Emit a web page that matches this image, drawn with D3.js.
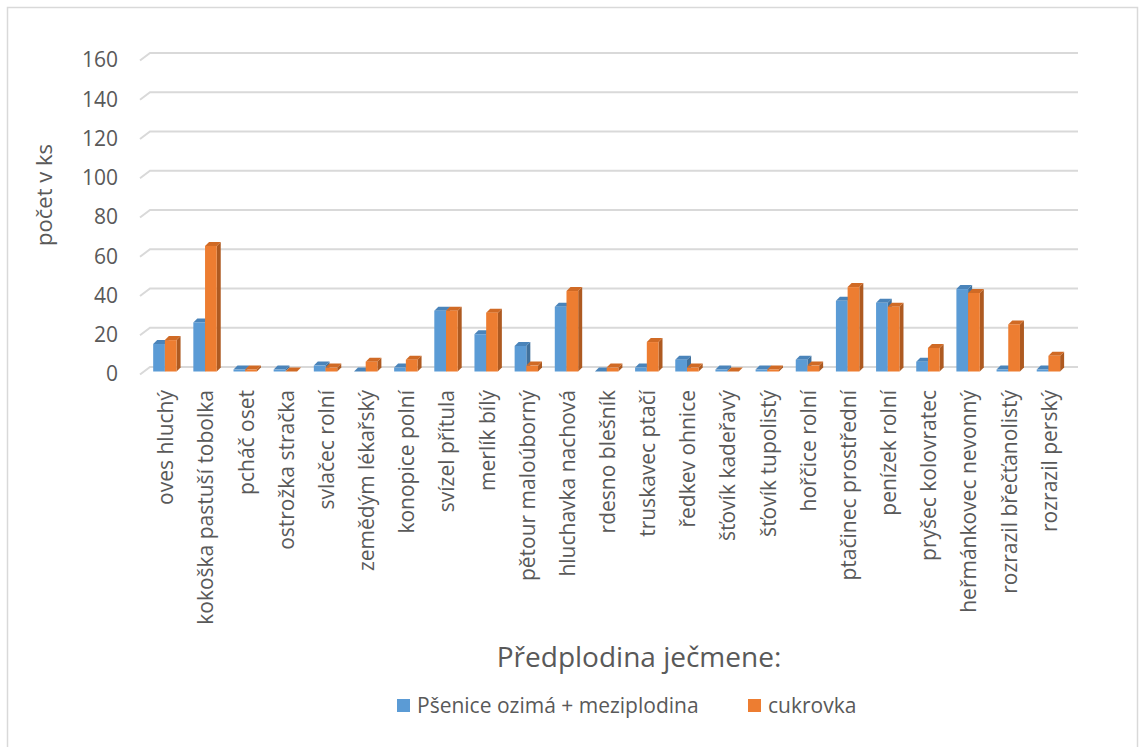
<!DOCTYPE html>
<html><head><meta charset="utf-8">
<script src="https://cdn.jsdelivr.net/npm/d3@7"></script>
<style>body{margin:0;background:#fff;} svg{display:block;}</style>
</head><body>
<svg id="c" width="1140" height="747"></svg>
<script>
const categories = ["oves hluchý","kokoška pastuší tobolka","pcháč oset","ostrožka stračka","svlačec rolní","zemědým lékařský","konopice polní","svízel přítula","merlík bílý","pětour maloúborný","hluchavka nachová","rdesno blešník","truskavec ptačí","ředkev ohnice","šťovík kadeřavý","šťovík tupolistý","hořčice rolní","ptačinec prostřední","penízek rolní","pryšec kolovratec","heřmánkovec nevonný","rozrazil břečťanolistý","rozrazil perský"];
const seriesNames = ["Pšenice ozimá + meziplodina","cukrovka"];
const wheat = [14,25,1,1,3,0,2,31,19,13,33,0,2,6,1,1,6,36,35,5,42,1,1];
const beet  = [16,64,1,0,2,5,6,31,30,3,41,2,15,2,0,1,3,43,33,12,40,24,8];
const yTicks = [0,20,40,60,80,100,120,140,160];

const svg = d3.select("#c");
const font = "'Open Sans', 'Noto Sans', sans-serif";
const txt = "#595959";

// border
svg.append("rect").attr("x",7.5).attr("y",7.5).attr("width",1130).attr("height",745)
  .attr("fill","none").attr("stroke","#d9d9d9").attr("stroke-width",1.5);

// scales
const yBack = d3.scaleLinear().domain([0,160]).range([367,53]);
const yFront = d3.scaleLinear().domain([0,160]).range([371.5,57.5]);
const x = d3.scaleBand().domain(categories).range([144.8,1068.5]).paddingInner(0).paddingOuter(0);
const bw = 11.7, dep = 4;

// gridlines (back wall + floor diagonal)
const g = svg.append("g");
yTicks.forEach(t=>{
  const yb = yBack(t);
  g.append("path").attr("d",`M140,${yb+7.5}L150,${yb}L1078,${yb}`)
    .attr("fill","none").attr("stroke","#d9d9d9").attr("stroke-width",2);
});

// y tick labels
svg.append("g").selectAll("text").data(yTicks).join("text")
  .attr("x",118).attr("y",d=>yBack(d)+7).attr("dy","0.35em")
  .attr("text-anchor","end").attr("font-family",font).attr("font-size",21).attr("fill",txt)
  .text(d=>d);

// bars
const series = [{vals:wheat, front:"#5B9BD5", side:"#41719C", top:"#4A84BA"},
                {vals:beet, front:"#ED7D31", side:"#AE5A21", top:"#D06A25"}];
const bars = svg.append("g");
categories.forEach((c,i)=>{
  const cx = x(c)+x.bandwidth()/2;
  series.forEach((s,k)=>{
    const v = s.vals[i];
    const x0 = cx - bw + k*bw;
    const yt = yFront(v), yb = yFront(0);
    bars.append("path").attr("d",`M${x0+bw},${yb}L${x0+bw+dep},${yb-dep}L${x0+bw+dep},${yt-dep}L${x0+bw},${yt}Z`).attr("fill",s.side);
    bars.append("path").attr("d",`M${x0},${yt}L${x0+dep},${yt-dep}L${x0+bw+dep},${yt-dep}L${x0+bw},${yt}Z`).attr("fill",s.top);
    bars.append("rect").attr("x",x0).attr("y",yt).attr("width",bw).attr("height",Math.max(0,yb-yt)).attr("fill",s.front);
  });
});

// category labels
svg.append("g").selectAll("text").data(categories).join("text")
  .attr("transform",d=>`translate(${x(d)+x.bandwidth()/2+1},390) rotate(-90)`)
  .attr("text-anchor","end").attr("dy","0.35em")
  .attr("font-family",font).attr("font-size",21).attr("fill",txt)
  .text(d=>d);

// axis titles
svg.append("text").attr("transform","translate(44,195) rotate(-90)")
  .attr("text-anchor","middle").attr("dy","0.35em")
  .attr("font-family",font).attr("font-size",22).attr("fill",txt).text("počet v ks");
svg.append("text").attr("x",639).attr("y",657).attr("dy","0.35em")
  .attr("text-anchor","middle").attr("font-family",font).attr("font-size",28).attr("fill",txt)
  .text("Předplodina ječmene:");

// legend
const legX = [397,748];
const leg = svg.append("g");
seriesNames.forEach((n,k)=>{
  leg.append("rect").attr("x",legX[k]).attr("y",699).attr("width",13).attr("height",13).attr("fill",series[k].front);
  leg.append("text").attr("x",legX[k]+20).attr("y",705.5).attr("dy","0.35em")
    .attr("font-family",font).attr("font-size",21).attr("fill",txt).text(n);
});
</script>
</body></html>
